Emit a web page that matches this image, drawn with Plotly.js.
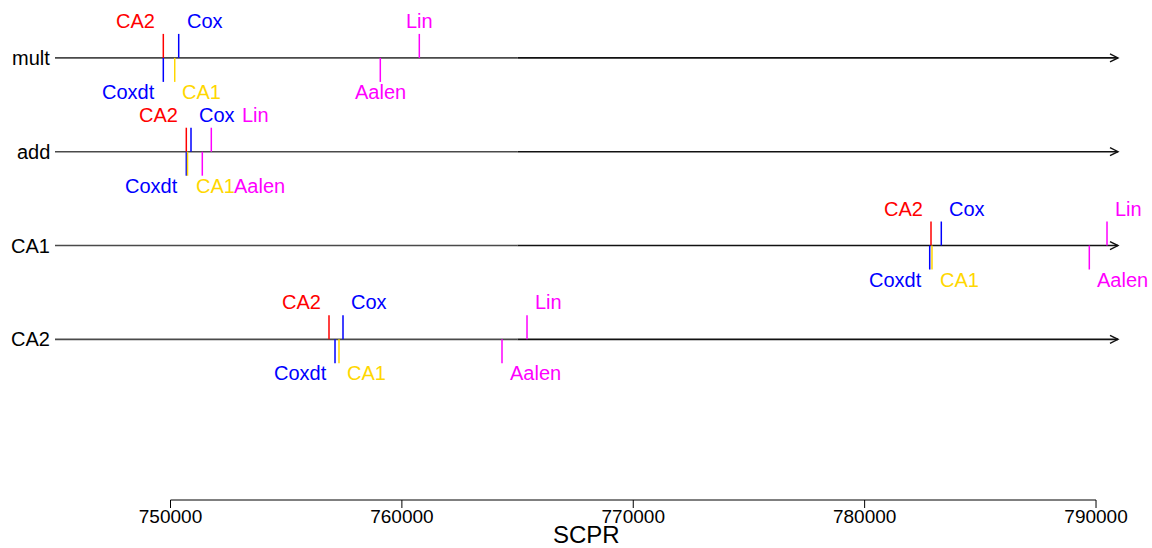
<!DOCTYPE html>
<html>
<head>
<meta charset="utf-8">
<script src="https://cdn.plot.ly/plotly-3.0.1.min.js"></script>
<style>
  html, body { margin: 0; padding: 0; background: #ffffff; }
  #chart { width: 1152px; height: 548px; }
</style>
</head>
<body>
<div id="chart"></div>
<script>
// Model rows, drawn top to bottom
const rows = ['mult', 'add', 'CA1', 'CA2'];

// Methods marked above each line, and below it
const upperMethods = ['CA2', 'Cox', 'Lin'];
const lowerMethods = ['Coxdt', 'CA1', 'Aalen'];

// SCPR estimates per row, in the order of upperMethods / lowerMethods
const upperValues = {
  mult: [749689, 750354, 760753],
  add:  [750683, 750886, 751763],
  CA1:  [782868, 783313, 790475],
  CA2:  [756850, 757455, 765408]
};
const lowerValues = {
  mult: [749689, 750182, 759067],
  add:  [750683, 750735, 751374],
  CA1:  [782812, 782911, 789710],
  CA2:  [757110, 757282, 764327]
};

// Axis ticks
const tickValues = [750000, 760000, 770000, 780000, 790000];
const xAxisTitle = 'SCPR';

// ---- styling ----
const methodColors = {
  CA2: '#FF0000', Cox: '#0000FF', Lin: '#FF00FF',
  Coxdt: '#0000FF', CA1: '#FFD700', Aalen: '#FF00FF'
};
// label anchor and horizontal offset (px) relative to each mark
const defaultPlacement = {
  CA2: ['right', -6], Cox: ['left', 6], Lin: ['left', 6],
  Coxdt: ['right', -6], CA1: ['left', 6], Aalen: ['left', 6]
};
const placementOverrides = {
  mult: { Lin: ['center', 0], Aalen: ['center', 0], CA1: ['left', 5] },
  add:  { Lin: ['left', 29], Aalen: ['left', 30] }
};

const FONT = 'Liberation Sans, Arial, Helvetica, sans-serif';
const W = 1152, H = 548;
const margin = { l: 55, r: 34, t: 11, b: 48 };
const xRange = [745008, 790950];
const yRange = [-0.7128, 4.5];
const plotH = H - margin.t - margin.b;
const pxPerY = plotH / (yRange[1] - yRange[0]);
const markLen = 24 / pxPerY;          // mark length in y units
const splitX = 765000;                // where the line turns from grey to black
const axisTickLen = 8 / plotH;        // bottom axis tick length in paper units

const shapes = [];
const annotations = [];

function yPaper(y) { return (y - yRange[0]) / (yRange[1] - yRange[0]); }

rows.forEach((row, i) => {
  const y = rows.length - i;

  // base line: grey left part, black right part
  shapes.push({ type: 'line', xref: 'x', yref: 'y', x0: xRange[0], x1: splitX, y0: y, y1: y,
                line: { color: '#4a4a4a', width: 1.6 } });
  shapes.push({ type: 'line', xref: 'x', yref: 'y', x0: splitX, x1: xRange[1], y0: y, y1: y,
                line: { color: '#111111', width: 1.6 } });
  // open arrow head at the right end
  const yp = yPaper(y);
  const dx = 8 / (W - margin.l - margin.r), dy = 4 / plotH;
  shapes.push({ type: 'path', xref: 'paper', yref: 'paper',
                path: `M${1 - dx},${yp + dy} L1,${yp} L${1 - dx},${yp - dy}`,
                line: { color: '#111111', width: 1.4 } });

  // row label
  annotations.push({ text: row, xref: 'paper', yref: 'y', x: 0, y: y,
                     xanchor: 'right', yanchor: 'middle', xshift: -3, showarrow: false,
                     font: { family: FONT, size: 20, color: '#000000' } });

  const place = Object.assign({}, defaultPlacement, placementOverrides[row] || {});

  upperMethods.forEach((m, k) => {
    const v = upperValues[row][k];
    shapes.push({ type: 'line', xref: 'x', yref: 'y', x0: v, x1: v, y0: y, y1: y + markLen,
                  line: { color: methodColors[m], width: 1.5 } });
    annotations.push({ text: m, xref: 'x', yref: 'y', x: v, y: y,
                       xanchor: place[m][0], yanchor: 'middle', xshift: place[m][1], yshift: 37,
                       showarrow: false, font: { family: FONT, size: 20, color: methodColors[m] } });
  });
  lowerMethods.forEach((m, k) => {
    const v = lowerValues[row][k];
    shapes.push({ type: 'line', xref: 'x', yref: 'y', x0: v, x1: v, y0: y, y1: y - markLen,
                  line: { color: methodColors[m], width: 1.5 } });
    annotations.push({ text: m, xref: 'x', yref: 'y', x: v, y: y,
                       xanchor: place[m][0], yanchor: 'middle', xshift: place[m][1], yshift: -34,
                       showarrow: false, font: { family: FONT, size: 20, color: methodColors[m] } });
  });
});

// bottom axis line spanning the labelled ticks only, with outward ticks
shapes.push({ type: 'line', xref: 'x', yref: 'paper',
              x0: tickValues[0], x1: tickValues[tickValues.length - 1], y0: 0, y1: 0,
              line: { color: '#000000', width: 1 } });
tickValues.forEach(v => {
  shapes.push({ type: 'line', xref: 'x', yref: 'paper', x0: v, x1: v, y0: 0, y1: -axisTickLen,
                line: { color: '#000000', width: 1 } });
});

// axis title
annotations.push({ text: xAxisTitle, xref: 'paper', yref: 'paper', x: 0.5, y: 0,
                   xanchor: 'center', yanchor: 'bottom', yshift: -48.5, showarrow: false,
                   borderpad: 0,
                   font: { family: FONT, size: 24, color: '#000000' } });

const layout = {
  width: W, height: H,
  margin: margin,
  paper_bgcolor: '#ffffff', plot_bgcolor: '#ffffff',
  showlegend: false,
  xaxis: {
    range: xRange, showgrid: false, zeroline: false, showline: false,
    tickmode: 'array', tickvals: tickValues, ticktext: tickValues.map(String),
    ticks: '', ticklabelstandoff: 3,
    tickfont: { family: FONT, size: 19, color: '#000000' },
    fixedrange: true
  },
  yaxis: { range: yRange, visible: false, fixedrange: true },
  shapes: shapes,
  annotations: annotations
};

// an invisible trace keeps the cartesian axes active
const traces = [{ x: [tickValues[0]], y: [0], type: 'scatter', mode: 'markers',
                  marker: { opacity: 0 }, hoverinfo: 'skip' }];

Plotly.newPlot('chart', traces, layout, { staticPlot: true, displayModeBar: false });
</script>
</body>
</html>
